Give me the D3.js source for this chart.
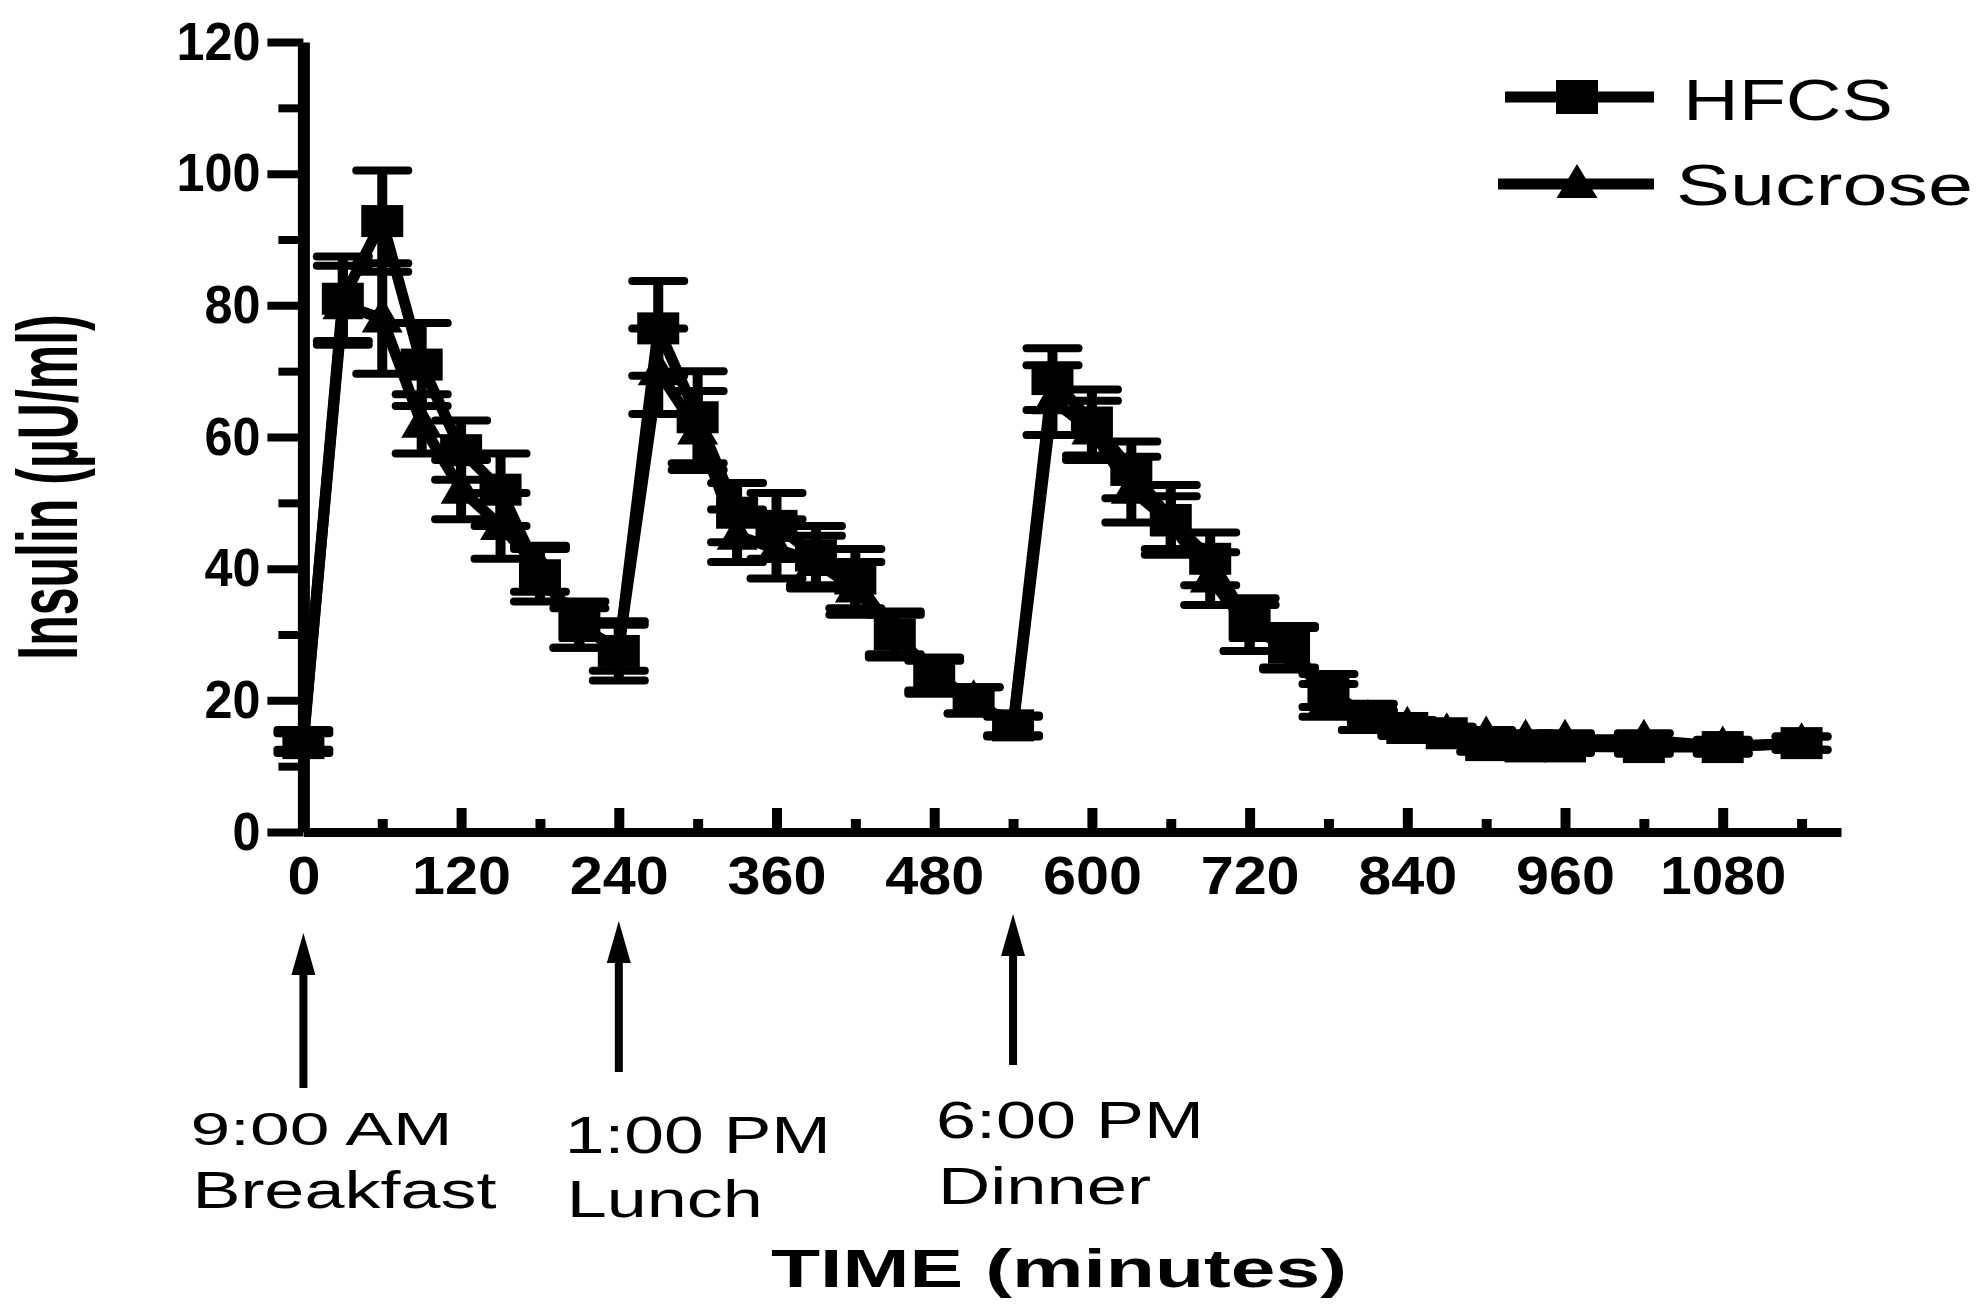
<!DOCTYPE html>
<html>
<head>
<meta charset="utf-8">
<script src="https://cdn.jsdelivr.net/npm/d3@7"></script>
<style>
  html, body { margin: 0; padding: 0; background: #fff; }
  svg text { font-family: "Liberation Sans", Arial, Helvetica, sans-serif; fill: #000; }
</style>
</head>
<body>
<div id="chart"></div>
<script>
// Insulin curves, HFCS vs sucrose
const width = 1983;
const height = 1304;

// sampling times (minutes)
const times = [0, 30, 60, 90, 120, 150, 180, 210, 240, 270, 300, 330, 360, 390, 420, 450, 480, 510, 540,
    570, 600, 630, 660, 690, 720, 750, 780, 810, 840, 870, 900, 930, 960, 1020, 1080, 1140];

const hfcsMean = [13.5, 81, 92.8, 71, 58, 52, 39, 31.5, 27.5, 76.5, 63, 48.5, 46.5, 42, 38.5, 30, 24, 20, 16.2,
    68.8, 62.2, 55, 47.4, 41.5, 31.5, 28, 21.5, 17.5, 15.8, 15, 13.2, 13, 13, 12.9, 12.9, 13.5];
const hfcsSem = [1.5, 6.4, 7.7, 6.3, 4.5, 5.5, 4, 3.5, 4.5, 7.2, 7, 4.5, 5, 4.5, 4.5, 3.5, 2.5, 2, 1.5,
    4.7, 5, 4.3, 5.3, 4, 4, 3.3, 2.5, 2, 1.2, 1, 1, 1, 1, 1, 1, 1];

const sucroseMean = [14, 80, 78, 62, 52, 46.5, 40, 31, 28, 70, 61, 45, 43, 41, 37, 30, 23.5, 20, 16,
    65.6, 61, 52, 47, 38.5, 31, 28, 20, 17, 16, 15, 14.5, 14, 14, 14, 13, 13.5];
const sucroseSem = [1.5, 6, 8.4, 4.5, 4.5, 5, 3.5, 3, 3.5, 6.5, 6, 4, 4.5, 4, 4, 3, 2.5, 2, 1.5,
    5.3, 4.5, 5, 4, 4, 3.5, 3, 2.5, 1.5, 1, 1, 1, 1, 1, 1, 1, 1];

const seriesNames = ["HFCS", "Sucrose"];

const yMajorTicks = [0, 20, 40, 60, 80, 100, 120];
const yMinorTicks = [10, 30, 50, 70, 90, 110];
const xMajorTicks = [0, 120, 240, 360, 480, 600, 720, 840, 960, 1080];
const xMinorTicks = [60, 180, 300, 420, 540, 660, 780, 900, 1020, 1140];

// meals
const mealTimes = [0, 240, 540];
const mealClock = ["9:00 AM", "1:00 PM", "6:00 PM"];
const mealNames = ["Breakfast", "Lunch", "Dinner"];

const yTitle = "Insulin (\u00b5U/ml)";
const xTitle = "TIME (minutes)";

// label placement for the meal annotations (layout only)
const mealLayout = [
    { dx: -113, clockY: 1145, clockSize: 47, clockLen: 262, nameY: 1208, nameLen: 304, tip: 933, base: 1088 },
    { dx: -54, clockY: 1153, clockSize: 52, clockLen: 266, nameY: 1217, nameLen: 196, tip: 921, base: 1072 },
    { dx: -77, clockY: 1138, clockSize: 52, clockLen: 268, nameY: 1204, nameLen: 213, tip: 914, base: 1065 }
];

const svg = d3.select("#chart")
    .append("svg")
    .attr("width", width)
    .attr("height", height);

const x = d3.scaleLinear().domain([0, 1170]).range([303.4, 1841]);
const y = d3.scaleLinear().domain([0, 120]).range([832, 42]);
const fmt = d3.format("d");

// ---- axes ----
const yMinor = svg.append("g")
    .attr("transform", `translate(${x(0)},0)`)
    .call(d3.axisLeft(y).tickValues(yMinorTicks).tickSize(25).tickFormat(""));
yMinor.select(".domain").remove();
yMinor.selectAll("line").attr("stroke", "#000").attr("stroke-width", 8);

const yAxis = svg.append("g")
    .attr("transform", `translate(${x(0)},0)`)
    .call(d3.axisLeft(y).tickValues(yMajorTicks).tickFormat(fmt)
        .tickSize(36).tickSizeOuter(0).tickPadding(7));
yAxis.select(".domain").attr("stroke", "#000").attr("stroke-width", 12);
yAxis.selectAll("line").attr("stroke", "#000").attr("stroke-width", 8);
yAxis.selectAll("text")
    .style("font-size", "54px")
    .style("font-weight", "bold")
    .attr("textLength", d => fmt(d).length * 28)
    .attr("lengthAdjust", "spacingAndGlyphs");

const xMinor = svg.append("g")
    .attr("transform", `translate(0,${y(0)})`)
    .call(d3.axisBottom(x).tickValues(xMinorTicks).tickSizeInner(-13).tickSizeOuter(0).tickFormat(""));
xMinor.select(".domain").remove();
xMinor.selectAll("line").attr("stroke", "#000").attr("stroke-width", 10);

const xAxis = svg.append("g")
    .attr("transform", `translate(0,${y(0)})`)
    .call(d3.axisBottom(x).tickValues(xMajorTicks).tickFormat(fmt)
        .tickSizeInner(-24).tickSizeOuter(0).tickPadding(24));
xAxis.select(".domain").attr("stroke", "#000").attr("stroke-width", 9);
xAxis.selectAll("line").attr("stroke", "#000").attr("stroke-width", 10);
xAxis.selectAll("text")
    .style("font-size", "54px")
    .style("font-weight", "bold")
    .attr("textLength", d => fmt(d).length === 4 ? 126 : fmt(d).length * 33)
    .attr("lengthAdjust", "spacingAndGlyphs");

// ---- data ----
const series = [
    { name: seriesNames[1], mean: sucroseMean, sem: sucroseSem, marker: "triangle" },
    { name: seriesNames[0], mean: hfcsMean, sem: hfcsSem, marker: "square" }
];

const line = d3.line()
    .x(d => x(d.t))
    .y(d => y(d.v));

const capW = 52;
const sqW = 42, sqH = 32;
const triW = 41, triH = 35;

function drawMarker(sel, kind) {
    if (kind === "square") {
        sel.append("rect")
            .attr("x", d => x(d.t) - sqW / 2)
            .attr("y", d => y(d.v) - sqH / 2)
            .attr("width", sqW)
            .attr("height", sqH)
            .attr("fill", "#000");
    } else {
        sel.append("path")
            .attr("d", d => {
                const cx = x(d.t), cy = y(d.v);
                return `M${cx},${cy - triH * 0.6}L${cx + triW / 2},${cy + triH * 0.4}L${cx - triW / 2},${cy + triH * 0.4}Z`;
            })
            .attr("fill", "#000");
    }
}

series.forEach(s => {
    const pts = times.map((t, i) => ({ t: t, v: s.mean[i], e: s.sem[i] }));
    const g = svg.append("g").attr("class", "series");

    g.append("path")
        .datum(pts)
        .attr("d", line)
        .attr("fill", "none")
        .attr("stroke", "#000")
        .attr("stroke-width", 11)
        .attr("stroke-linejoin", "round");

    const eb = g.append("g")
        .selectAll("g")
        .data(pts)
        .enter()
        .append("g");
    eb.append("line")
        .attr("x1", d => x(d.t)).attr("x2", d => x(d.t))
        .attr("y1", d => y(d.v + d.e)).attr("y2", d => y(d.v - d.e))
        .attr("stroke", "#000").attr("stroke-width", 10);
    eb.append("line")
        .attr("x1", d => x(d.t) - capW / 2).attr("x2", d => x(d.t) + capW / 2)
        .attr("y1", d => y(d.v + d.e)).attr("y2", d => y(d.v + d.e))
        .attr("stroke", "#000").attr("stroke-width", 8).attr("stroke-linecap", "round");
    eb.append("line")
        .attr("x1", d => x(d.t) - capW / 2).attr("x2", d => x(d.t) + capW / 2)
        .attr("y1", d => y(d.v - d.e)).attr("y2", d => y(d.v - d.e))
        .attr("stroke", "#000").attr("stroke-width", 8).attr("stroke-linecap", "round");

    const m = g.append("g")
        .selectAll("g")
        .data(pts)
        .enter()
        .append("g");
    drawMarker(m, s.marker);
});

// ---- legend ----
const legendRows = [
    { name: seriesNames[0], marker: "square", ly: 97, ty: 120, len: 210, x0: 1505, tx: 1683 },
    { name: seriesNames[1], marker: "triangle", ly: 184, ty: 205, len: 297, x0: 1498, tx: 1676 }
];
const legend = svg.append("g");
legendRows.forEach(r => {
    legend.append("line")
        .attr("x1", r.x0).attr("x2", 1654)
        .attr("y1", r.ly).attr("y2", r.ly)
        .attr("stroke", "#000").attr("stroke-width", 11);
    const cx = 1577, cy = r.ly;
    if (r.marker === "square") {
        legend.append("rect")
            .attr("x", cx - sqW / 2).attr("y", cy - 17)
            .attr("width", sqW).attr("height", 34)
            .attr("fill", "#000");
    } else {
        legend.append("path")
            .attr("d", `M${cx},${cy - 20}L${cx + triW / 2},${cy + 14}L${cx - triW / 2},${cy + 14}Z`)
            .attr("fill", "#000");
    }
    legend.append("text")
        .attr("x", r.tx)
        .attr("y", r.ty)
        .attr("textLength", r.len)
        .attr("lengthAdjust", "spacingAndGlyphs")
        .style("font-size", "58px")
        .text(r.name);
});

// ---- meal arrows and labels ----
const meals = svg.append("g");
mealTimes.forEach((t, i) => {
    const L = mealLayout[i];
    const ax = x(t);
    meals.append("line")
        .attr("x1", ax).attr("x2", ax)
        .attr("y1", L.base).attr("y2", L.tip + 30)
        .attr("stroke", "#000").attr("stroke-width", 8);
    meals.append("path")
        .attr("d", `M${ax},${L.tip}L${ax + 12},${L.tip + 42}L${ax - 12},${L.tip + 42}Z`)
        .attr("fill", "#000");
    meals.append("text")
        .attr("x", ax + L.dx).attr("y", L.clockY)
        .attr("textLength", L.clockLen)
        .attr("lengthAdjust", "spacingAndGlyphs")
        .style("font-size", L.clockSize + "px")
        .text(mealClock[i]);
    meals.append("text")
        .attr("x", ax + L.dx + 2).attr("y", L.nameY)
        .attr("textLength", L.nameLen)
        .attr("lengthAdjust", "spacingAndGlyphs")
        .style("font-size", "52px")
        .text(mealNames[i]);
});

// ---- axis titles ----
svg.append("text")
    .attr("x", 771)
    .attr("y", 1287)
    .attr("textLength", 576)
    .attr("lengthAdjust", "spacingAndGlyphs")
    .style("font-size", "54px")
    .style("font-weight", "bold")
    .text(xTitle);

svg.append("g")
    .attr("transform", "translate(46,487) scale(1.7,1) rotate(-90)")
    .append("text")
    .attr("text-anchor", "middle")
    .attr("dy", "0.36em")
    .style("font-size", "50px")
    .style("font-weight", "bold")
    .text(yTitle);
</script>
</body>
</html>
